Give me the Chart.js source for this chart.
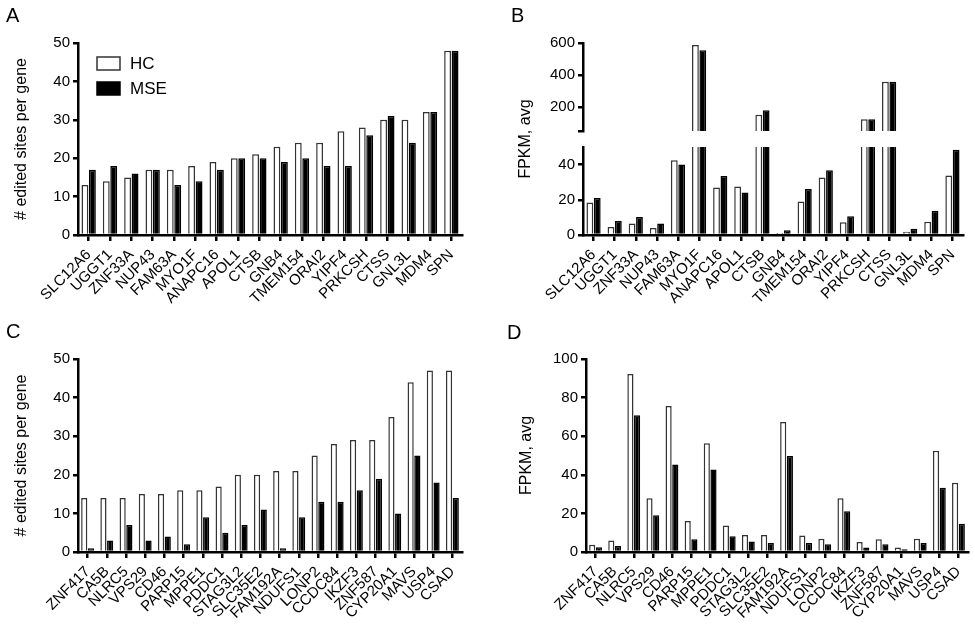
<!DOCTYPE html>
<html>
<head>
<meta charset="utf-8">
<script src="https://cdn.jsdelivr.net/npm/chart.js@4.4.1/dist/chart.umd.min.js"></script>
<style>
    body { margin: 0; background: #fff; }
    #wrap { position: relative; width: 975px; height: 629px; font-family: 'Liberation Sans', Arial, sans-serif; color: #000; }
    canvas { position: absolute; }
    .panel { position: absolute; font-size: 20px; }
    .ytitle { position: absolute; font-size: 16px; white-space: nowrap; transform: translate(-50%, -50%) rotate(-90deg); }
</style>
</head>
<body>
<div id="wrap">
    <canvas id="chartA" width="480" height="320" style="left:0;top:0"></canvas>
    <canvas id="chartBtop" width="495" height="136" style="left:480px;top:0"></canvas>
    <canvas id="chartBbot" width="495" height="184" style="left:480px;top:136px"></canvas>
    <canvas id="chartC" width="480" height="309" style="left:0;top:320px"></canvas>
    <canvas id="chartD" width="495" height="309" style="left:480px;top:320px"></canvas>
    <div class="panel" style="left:6px;top:4px">A</div>
    <div class="panel" style="left:511px;top:4px">B</div>
    <div class="panel" style="left:6px;top:320px">C</div>
    <div class="panel" style="left:507px;top:321px">D</div>
    <div class="ytitle" style="left:525px;top:139px">FPKM, avg</div>
</div>
<script>
// genes of panels A/B and C/D
var genesAB = ['SLC12A6', 'UGGT1', 'ZNF33A', 'NUP43', 'FAM63A', 'MYO1F', 'ANAPC16', 'APOL1', 'CTSB', 'GNB4',
    'TMEM154', 'ORAI2', 'YIPF4', 'PRKCSH', 'CTSS', 'GNL3L', 'MDM4', 'SPN'];
var genesCD = ['ZNF417', 'CA5B', 'NLRC5', 'VPS29', 'CD46', 'PARP15', 'MPPE1', 'PDDC1', 'STAG3L2', 'SLC35E2',
    'FAM192A', 'NDUFS1', 'LONP2', 'CCDC84', 'IKZF3', 'ZNF587', 'CYP20A1', 'MAVS', 'USP4', 'CSAD'];

// A: # edited sites per gene
var sitesHcA  = [13, 14, 15, 17, 17, 18, 19, 20, 21, 23, 24, 24, 27, 28, 30, 30, 32, 48];
var sitesMseA = [17, 18, 16, 17, 13, 14, 17, 20, 20, 19, 20, 18, 18, 26, 31, 24, 32, 48];
// B: FPKM avg
var fpkmHcB  = [18.5, 4.5, 6.5, 4, 42.5, 587, 27, 27.5, 152, 1.2, 19, 32.7, 7.2, 124, 358, 1.8, 7.5, 33.8];
var fpkmMseB = [21, 8, 10.2, 6.5, 40, 554, 33.5, 24.2, 179, 2.7, 26.2, 36.8, 10.6, 124, 358, 3.6, 13.8, 48.5];
// C: # edited sites per gene
var sitesHcC  = [14, 14, 14, 15, 15, 16, 16, 17, 20, 20, 21, 21, 25, 28, 29, 29, 35, 44, 47, 47];
var sitesMseC = [1, 3, 7, 3, 4, 2, 9, 5, 7, 11, 1, 9, 13, 13, 16, 19, 10, 25, 18, 14];
// D: FPKM avg
var fpkmHcD  = [3.8, 5.9, 92.2, 27.9, 75.6, 16.1, 56.3, 13.7, 8.8, 8.8, 67.4, 8.5, 6.9, 27.9, 5.2, 6.6, 2.3, 6.9, 52.5, 35.9];
var fpkmMseD = [2.4, 3.1, 70.9, 19.1, 45.4, 6.6, 42.8, 8.1, 5.4, 4.7, 49.7, 4.7, 4, 21.1, 2.3, 4, 1.4, 4.7, 33.3, 14.7];

// tick values
var ticksSites = [0, 10, 20, 30, 40, 50];
var ticksBTop = [50, 200, 400, 600];
var ticksBBot = [0, 10, 20, 30, 40, 50];
var ticksD = [0, 20, 40, 60, 80, 100];

Chart.defaults.font.family = "'Liberation Sans', Arial, sans-serif";
Chart.defaults.color = '#000';

// legend drawn inside the plot (panel A)
var insideLegend = {
    id: 'insideLegend',
    afterDraw: function(chart) {
        var ctx = chart.ctx;
        var area = chart.chartArea;
        ctx.save();
        chart.data.datasets.forEach(function(ds, i) {
            var x = area.left + 19;
            var y = area.top + 14 + i * 25;
            ctx.fillStyle = ds.backgroundColor;
            ctx.fillRect(x, y, 23, 13);
            ctx.lineWidth = 1.5;
            ctx.strokeStyle = ds.borderColor;
            ctx.strokeRect(x, y, 23, 13);
            ctx.fillStyle = '#000';
            ctx.font = "17px 'Liberation Sans', Arial, sans-serif";
            ctx.textBaseline = 'middle';
            ctx.fillText(ds.label, x + 33, y + 7);
        });
        ctx.restore();
    }
};

function barChart(id, labels, hc, mse, cfg) {
    return new Chart(document.getElementById(id), {
        type: 'bar',
        data: {
            labels: labels,
            datasets: [{
                label: 'HC',
                data: hc,
                backgroundColor: '#ffffff',
                borderColor: '#333333',
                borderWidth: 1.5,
                categoryPercentage: 0.7,
                barPercentage: 0.92,
                clip: 0
            }, {
                label: 'MSE',
                data: mse,
                backgroundColor: '#000000',
                borderColor: '#000000',
                borderWidth: 1.5,
                categoryPercentage: 0.7,
                barPercentage: 0.92,
                clip: 0
            }]
        },
        options: {
            responsive: false,
            animation: false,
            devicePixelRatio: 1,
            layout: { padding: cfg.pad },
            plugins: { legend: { display: false }, tooltip: { enabled: false } },
            scales: {
                x: {
                    display: cfg.showX !== false,
                    grid: { offset: false, drawOnChartArea: false, color: '#000', lineWidth: 2.5, tickLength: 6 },
                    border: { color: '#000', width: 2.5 },
                    ticks: { minRotation: 45, maxRotation: 45, autoSkip: false, font: { size: 15 }, color: '#000', padding: 5 },
                    afterFit: function(s) { s.height = cfg.xh || 0; s.paddingLeft = 0; s.paddingRight = 0; }
                },
                y: {
                    min: cfg.min,
                    max: cfg.max,
                    afterBuildTicks: function(s) { s.ticks = cfg.ticks.map(function(v) { return { value: v }; }); },
                    grid: { drawOnChartArea: false, color: '#000', lineWidth: 2.5, tickLength: 5 },
                    border: { color: '#000', width: 2.5 },
                    ticks: {
                        font: { size: 15 },
                        color: '#000',
                        padding: 3,
                        callback: function(v) { return v === cfg.noLabel ? '' : v; }
                    },
                    title: { display: !!cfg.title, text: cfg.title, font: { size: 16 }, color: '#000', padding: { top: cfg.titlePad || 0, bottom: 0 } },
                    afterFit: function(s) { s.width = cfg.yw; s.paddingTop = 0; s.paddingBottom = 0; }
                }
            }
        },
        plugins: cfg.plugins || []
    });
}

barChart('chartA', genesAB, sitesHcA, sitesMseA, {
    pad: { left: 0, top: 43, right: 18, bottom: 0 }, yw: 78, xh: 85,
    min: 0, max: 50, ticks: ticksSites, title: '# edited sites per gene', titlePad: 12,
    plugins: [insideLegend]
});

barChart('chartBtop', genesAB, fpkmHcB, fpkmMseB, {
    pad: { left: 0, top: 43, right: 12, bottom: 5 }, yw: 103, showX: false,
    min: 50, max: 600, ticks: ticksBTop, noLabel: 50
});

barChart('chartBbot', genesAB, fpkmHcB, fpkmMseB, {
    pad: { left: 0, top: 11, right: 12, bottom: 0 }, yw: 103, xh: 85,
    min: 0, max: 50, ticks: ticksBBot
});

barChart('chartC', genesCD, sitesHcC, sitesMseC, {
    pad: { left: 0, top: 39, right: 18, bottom: 0 }, yw: 78, xh: 77,
    min: 0, max: 50, ticks: ticksSites, title: '# edited sites per gene', titlePad: 12
});

barChart('chartD', genesCD, fpkmHcD, fpkmMseD, {
    pad: { left: 0, top: 39, right: 7, bottom: 0 }, yw: 106, xh: 77,
    min: 0, max: 100, ticks: ticksD, title: 'FPKM, avg', titlePad: 37
});
</script>
</body>
</html>
